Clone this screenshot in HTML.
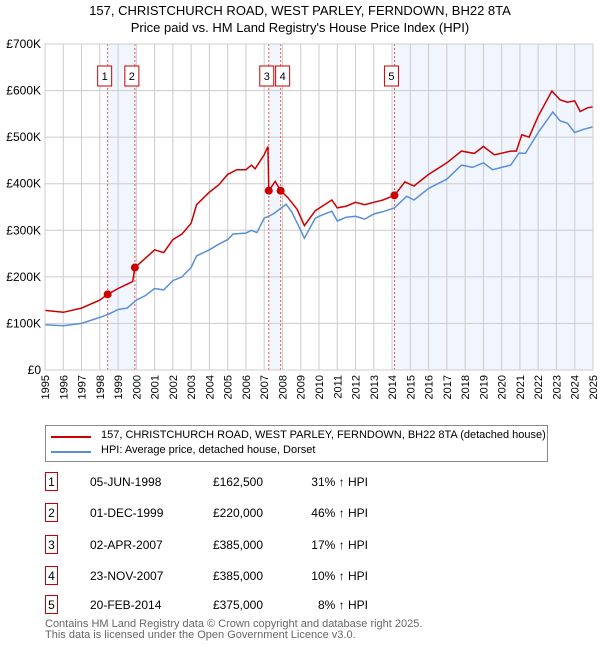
<!DOCTYPE html>
<html><head><meta charset="utf-8"><style>
body{margin:0;background:#fff;font-family:"Liberation Sans","DejaVu Sans",sans-serif;}
#wrap{position:relative;width:600px;height:650px;overflow:hidden}
.t{position:absolute;font-size:12px;color:#000;white-space:nowrap}
.box{position:absolute;border:1px solid #c00;width:13px;height:19px;text-align:center;line-height:19px;font-size:12px;box-sizing:border-box}
</style></head><body><div id="wrap">
<div class="t" style="left:0;width:600px;text-align:center;top:2px;font-size:13px;line-height:17px">157, CHRISTCHURCH ROAD, WEST PARLEY, FERNDOWN, BH22 8TA<br>Price paid vs. HM Land Registry's House Price Index (HPI)</div>
<svg id="chart" width="600" height="410" style="position:absolute;left:0;top:0" font-family="Liberation Sans, DejaVu Sans, sans-serif"></svg>
<div style="position:absolute;left:45px;top:425px;width:503px;height:37px;border:1px solid #888;box-sizing:border-box">
<div style="position:absolute;left:5px;top:10px;width:40px;height:2px;background:#cc0000"></div>
<div class="t" style="left:55px;top:3px;font-size:11px">157, CHRISTCHURCH ROAD, WEST PARLEY, FERNDOWN, BH22 8TA (detached house)</div>
<div style="position:absolute;left:5px;top:25px;width:40px;height:2px;background:#5b8fd4"></div>
<div class="t" style="left:55px;top:18px;font-size:11px">HPI: Average price, detached house, Dorset</div>
</div>
<div id="table"></div>
<div class="t" style="left:45px;top:619px;font-size:11px;color:#666;line-height:11px">Contains HM Land Registry data © Crown copyright and database right 2025.<br>This data is licensed under the Open Government Licence v3.0.</div>
</div>
<script>
const saleNums=["1","2","3","4","5"];
const saleYears=[1998.43,1999.92,2007.25,2007.9,2014.13];
const salePrices=[162500,220000,385000,385000,375000];
const saleDates=["05-JUN-1998","01-DEC-1999","02-APR-2007","23-NOV-2007","20-FEB-2014"];
const salePriceLabels=["£162,500","£220,000","£385,000","£385,000","£375,000"];
const saleHpi=["31% ↑ HPI","46% ↑ HPI","17% ↑ HPI","10% ↑ HPI","8% ↑ HPI"];
const hpiYears=[1995,1996,1997,1998,1998.5,1999,1999.5,2000,2000.5,2001,2001.5,2002,2002.5,2003,2003.3,2004,2004.5,2005,2005.3,2006,2006.3,2006.6,2007,2007.5,2008,2008.2,2008.5,2009,2009.2,2009.8,2010,2010.7,2011,2011.5,2012,2012.5,2013,2013.5,2014.13,2014.8,2015.2,2016,2017,2017.8,2018.4,2019,2019.5,2020,2020.5,2020.95,2021.3,2022,2022.8,2023.2,2023.6,2024,2024.5,2025];
const hpiValues=[97,95,100,113,120,130,133,150,160,175,172,192,200,220,245,258,270,280,292,294,300,295,326,335,350,356,340,300,283,326,330,341,320,328,330,324,335,340,348,373,365,390,410,440,435,445,430,435,440,466,465,510,554,535,530,510,517,522];
const ppYears=[1995,1996,1997,1998,1998.43,1999,1999.8,1999.92,2000.5,2001,2001.5,2002,2002.5,2003,2003.3,2004,2004.5,2005,2005.5,2006,2006.3,2006.5,2007,2007.2,2007.25,2007.6,2007.9,2008.3,2008.8,2009.2,2009.8,2010.3,2010.7,2011,2011.5,2012,2012.5,2013,2013.5,2014.13,2014.7,2015.2,2016,2017,2017.8,2018.5,2019,2019.6,2020.5,2020.8,2021.1,2021.5,2022,2022.75,2023.2,2023.6,2024,2024.3,2024.7,2025];
const ppValues=[128,124,133,150,162.5,175,190,220,240,258,252,280,292,315,355,382,397,420,430,430,440,432,462,480,385,405,385,370,345,310,342,355,365,348,352,360,355,360,365,375,404,395,420,445,470,465,480,462,470,470,505,500,545,599,580,575,578,555,563,565];
const yTicks=[0,100,200,300,400,500,600,700];
const yTickLabels=["£0","£100K","£200K","£300K","£400K","£500K","£600K","£700K"];
const xTicks=[1995,1996,1997,1998,1999,2000,2001,2002,2003,2004,2005,2006,2007,2008,2009,2010,2011,2012,2013,2014,2015,2016,2017,2018,2019,2020,2021,2022,2023,2024,2025];
const shadeRanges=[[1998.43,1999.92],[2007.25,2007.9],[2014.13,2025]];

const L=45,R=593,T=44,B=370;
const xs=y=>L+(y-1995)/(2025-1995)*(R-L);
const ys=v=>B-v/700*(B-T);
const svg=document.getElementById('chart');const NS='http://www.w3.org/2000/svg';
function mk(tag,attrs,parent){const e=document.createElementNS(NS,tag);for(const k in attrs)e.setAttribute(k,attrs[k]);(parent||svg).appendChild(e);return e;}
shadeRanges.forEach(r=>{const e=mk('rect',{x:xs(r[0]),y:T,width:xs(r[1])-xs(r[0]),height:B-T,fill:'#eef3fc',opacity:0.8});

});
xTicks.forEach(t=>{const e=mk('line',{x1:xs(t),x2:xs(t),y1:T,y2:B,stroke:'#ccc','stroke-width':1});


const tx=mk('text',{x:0,y:0,'font-size':11,'text-anchor':'end',transform:`translate(${xs(t)+4},${B+5}) rotate(-90)`});tx.textContent=t;

});
yTicks.forEach((t,i)=>{const e=mk('line',{x1:L,x2:R,y1:ys(t),y2:ys(t),stroke:'#ccc','stroke-width':1});


const tx=mk('text',{x:L-4,y:ys(t)+4,'font-size':12,'text-anchor':'end'});tx.textContent=yTickLabels[i];

});
saleYears.forEach((y,i)=>{const e=mk('line',{x1:xs(y),x2:xs(y),y1:T,y2:B,stroke:'#e55','stroke-width':1,'stroke-dasharray':'2,2'});

});
function path(xa,va,color,name){const d=xa.map((x,i)=>(i?'L':'M')+xs(x).toFixed(1)+','+ys(va[i]).toFixed(1)).join('');
const p=mk('path',{d:d,fill:'none',stroke:color,'stroke-width':1.5});

}
path(hpiYears,hpiValues,'#5b8fd4','hpi-line');
path(ppYears,ppValues,'#cc0000','property-price-line');
saleYears.forEach((y,i)=>{const c=mk('circle',{cx:xs(y),cy:ys(salePrices[i]/1000),r:4,fill:'#cc0000'});

});
const boxOff=[-3,-3,-2,2,-3];
saleYears.forEach((y,i)=>{const bx=xs(y)+boxOff[i]-7;
const r=mk('rect',{x:bx,y:66,width:14,height:20,fill:'#fff',stroke:'#cc0000','stroke-width':1});


const t=mk('text',{x:bx+7,y:80,'font-size':11,'text-anchor':'middle'});t.textContent=saleNums[i];

});
mk('rect',{x:L,y:T,width:R-L,height:B-T,fill:'none',stroke:'#ccc'});
const tb=document.getElementById('table');
const rowsY=[482,513,545,576,605];
saleNums.forEach((n,i)=>{const y=rowsY[i];
const row=document.createElement('div');


row.innerHTML=`<div class="box" style="left:45px;top:${y-10}px">${n}</div><div class="t" style="left:90px;top:${y-7}px">${saleDates[i]}</div><div class="t" style="left:203px;width:60px;text-align:right;top:${y-7}px">${salePriceLabels[i]}</div><div class="t" style="left:290px;width:78px;text-align:right;top:${y-7}px">${saleHpi[i]}</div>`;
tb.appendChild(row);});
</script></body></html>
